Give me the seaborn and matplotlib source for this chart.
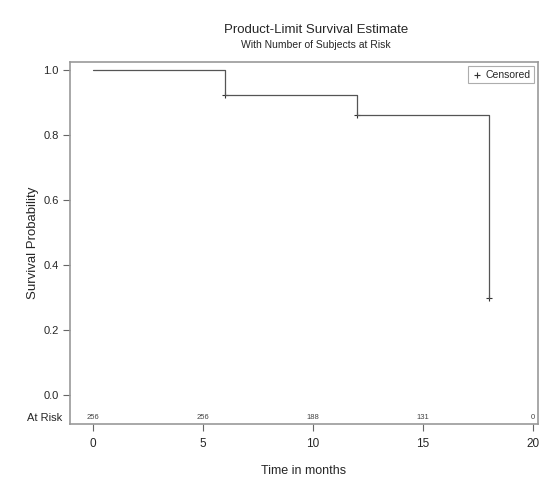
import matplotlib
matplotlib.use("Agg")
import matplotlib.pyplot as plt
import seaborn as sns
import pandas as pd

times = [0, 6, 12, 18]
survival = [1.0, 0.923, 0.862, 0.30]
censor_times = [6, 12, 18]
censor_surv = [0.923, 0.862, 0.30]
risk_times = [0, 5, 10, 15, 20]
risk_counts = [256, 256, 188, 131, 0]
x_ticks = [0, 5, 10, 15, 20]
y_ticks = [0.0, 0.2, 0.4, 0.6, 0.8, 1.0]

sns.set_style("white")
plt.rcParams['font.family'] = ['Liberation Sans', 'DejaVu Sans']

fig = plt.figure(figsize=(5.48, 4.86), dpi=100)
ax = fig.add_axes([70/548, 62/486, 468/548, 362/486])

df = pd.DataFrame({"t": times, "s": survival})
sns.lineplot(data=df, x="t", y="s", drawstyle="steps-post", color="#555555",
             linewidth=0.9, ax=ax, estimator=None)
cdf = pd.DataFrame({"t": censor_times, "s": censor_surv})
sns.scatterplot(data=cdf, x="t", y="s", marker="+", color="#333333", s=25,
                linewidth=0.8, ax=ax, label="Censored")

ax.set_xlim(-1.05, 20.25)
ax.set_ylim(-0.089, 1.025)
ax.set_xticks(x_ticks)
ax.set_yticks(y_ticks)
ax.set_xticklabels([str(v) for v in x_ticks], fontsize=8.5)
ax.set_yticklabels([f"{v:.1f}" for v in y_ticks], fontsize=8)
for sp in ax.spines.values():
    sp.set_color("#999999")
    sp.set_linewidth(1.2)
ax.tick_params(axis="both", direction="out", length=5, width=0.8, color="#666666", pad=3, left=True, bottom=True)
ax.tick_params(axis="x", pad=5)
ax.set_xlabel("Time in months", fontsize=9, labelpad=11)
ax.set_ylabel("Survival Probability", fontsize=9.5, labelpad=3)

for t, c in zip(risk_times, risk_counts):
    ax.text(t, -0.07, str(c), ha="center", va="center", fontsize=5.5, color="#444444")
ax.text(-0.017, -0.07, "At Risk", transform=ax.get_yaxis_transform(), ha="right", va="center", fontsize=8)

leg = ax.legend(loc="upper right", fontsize=7.5, frameon=True, fancybox=False,
                handletextpad=0.3, borderpad=0.35, handlelength=1.0, borderaxespad=0.4)
leg.get_frame().set_edgecolor("#999999")
leg.get_frame().set_linewidth(0.8)

fig.text(316/548, 1 - 30/486, "Product-Limit Survival Estimate", ha="center", va="center", fontsize=9.5)
fig.text(316/548, 1 - 45/486, "With Number of Subjects at Risk", ha="center", va="center", fontsize=7.5)

fig.savefig("out.png", dpi=100)
